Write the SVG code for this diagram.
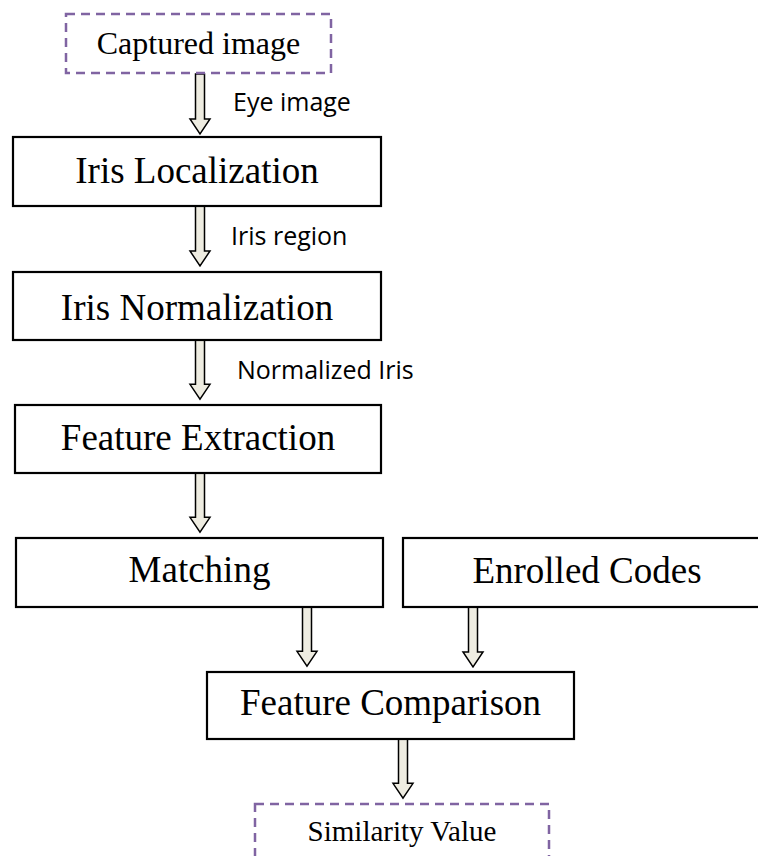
<svg xmlns="http://www.w3.org/2000/svg" width="758" height="856" viewBox="0 0 758 856">
  <style>
    .box { fill: #ffffff; stroke: #000000; stroke-width: 2.2; }
    .dash { fill: none; stroke: #8064A2; stroke-width: 2.5; stroke-dasharray: 9 6; }
    .t { font-family: "Liberation Serif", "Times New Roman", serif; font-size: 37px; fill: #000; text-anchor: middle; }
    .lbl { font-family: "Open Sans", "Noto Sans", sans-serif; font-size: 25px; fill: #000; }
    .arrow { fill: #EEECE1; stroke: #000000; stroke-width: 1.5; stroke-linejoin: miter; }
  </style>
  <defs>
    <!-- block arrow pointing down, 60px long, origin at top centre -->
    <path id="downArrow" class="arrow" d="M-4.5,0 H4.5 V45 H10 L0,60 L-10,45 H-4.5 Z"/>
  </defs>

  <rect width="758" height="856" fill="#ffffff"/>

  <g id="connectors">
    <use href="#downArrow" transform="translate(200,74)"/>
    <use href="#downArrow" transform="translate(200,206)"/>
    <use href="#downArrow" transform="translate(200,340) scale(1,0.985)"/>
    <use href="#downArrow" transform="translate(200,473) scale(1,0.985)"/>
    <use href="#downArrow" transform="translate(307,607) scale(1,0.985)"/>
    <use href="#downArrow" transform="translate(473,607)"/>
    <use href="#downArrow" transform="translate(403,739) scale(1,0.985)"/>
    <text class="lbl" x="233" y="111">Eye image</text>
    <text class="lbl" x="231" y="245">Iris region</text>
    <text class="lbl" x="237" y="379">Normalized Iris</text>
  </g>

  <g id="captured-image">
    <rect class="dash" x="66" y="14" width="265" height="59"/>
    <text class="t" x="198.5" y="54" style="font-size:32px">Captured image</text>
  </g>

  <g id="iris-localization">
    <rect class="box" x="13" y="137" width="368" height="69"/>
    <text class="t" x="197" y="183">Iris Localization</text>
  </g>

  <g id="iris-normalization">
    <rect class="box" x="13" y="272" width="368" height="68"/>
    <text class="t" x="197" y="320">Iris Normalization</text>
  </g>

  <g id="feature-extraction">
    <rect class="box" x="15" y="405" width="366" height="68"/>
    <text class="t" x="198" y="450">Feature Extraction</text>
  </g>

  <g id="matching">
    <rect class="box" x="16" y="538" width="367" height="69"/>
    <text class="t" x="199.5" y="582">Matching</text>
  </g>

  <g id="enrolled-codes">
    <rect class="box" x="403" y="538" width="360" height="69"/>
    <text class="t" x="587" y="583">Enrolled Codes</text>
  </g>

  <g id="feature-comparison">
    <rect class="box" x="207" y="672" width="367" height="67"/>
    <text class="t" x="390.5" y="715">Feature Comparison</text>
  </g>

  <g id="similarity-value">
    <rect class="dash" x="255" y="804" width="294" height="70"/>
    <text class="t" x="402" y="841" style="font-size:29px">Similarity Value</text>
  </g>
</svg>
